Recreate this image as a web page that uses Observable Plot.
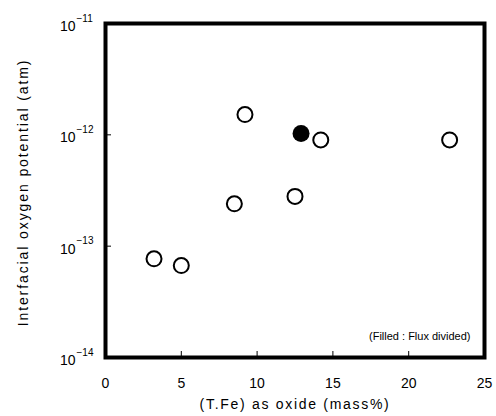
<!DOCTYPE html>
<html><head><meta charset="utf-8">
<script src="https://cdn.jsdelivr.net/npm/d3@7"></script>
<script src="https://cdn.jsdelivr.net/npm/@observablehq/plot@0.6"></script>
<style>
body{margin:0;background:#fff;}
</style>
</head><body><div id="chart"></div>
<script>
const openX = [3.2, 5.0, 8.5, 9.2, 12.5, 14.2, 22.7];
const openY = [7.7e-14, 6.7e-14, 2.4e-13, 1.52e-12, 2.8e-13, 9.0e-13, 9.0e-13];
const filledX = [12.9];
const filledY = [1.03e-12];
const xTicks = [0, 5, 10, 15, 20, 25];
const yTicks = [1e-11, 1e-12, 1e-13, 1e-14];
const yTickBase = ["10", "10", "10", "10"];
const yTickExp = ["\u221211", "\u221212", "\u221213", "\u221214"];
const xLabel = "(T.Fe) as oxide (mass%)";
const yLabel = "Interfacial oxygen potential (atm)";
const note = "(Filled : Flux divided)";

const openData = openX.map((x, i) => ({x, y: openY[i]}));
const filledData = filledX.map((x, i) => ({x, y: filledY[i]}));
const yRows = yTicks.map((v, i) => ({v, base: yTickBase[i], exp: yTickExp[i]}));
const innerTicksX = xTicks.slice(1, -1);
const innerTicksY = yTicks.slice(1, -1);

const chart = Plot.plot({
  width: 496, height: 416,
  marginLeft: 105, marginRight: 12, marginTop: 23, marginBottom: 59,
  style: {fontFamily: "'Liberation Sans', Arial, sans-serif", background: "#fff", color: "#000"},
  x: {domain: [0, 25]},
  y: {type: "log", domain: [1e-14, 1e-11]},
  marks: [
    Plot.axisX(innerTicksX, {tickSize: -6, text: null, label: null, strokeWidth: 1}),
    Plot.axisY(innerTicksY, {tickSize: -6, text: null, label: null, strokeWidth: 1}),
    Plot.frame({stroke: "#000", strokeWidth: 4}),
    Plot.text(xTicks, {x: d => d, frameAnchor: "bottom", dy: 26, lineAnchor: "middle", fontSize: 14}),
    Plot.text(yRows, {y: "v", text: "base", frameAnchor: "left", dx: -30, dy: 3, textAnchor: "end", lineAnchor: "middle", fontSize: 14}),
    Plot.text(yRows, {y: "v", text: "exp", frameAnchor: "left", dx: -29, dy: -5, textAnchor: "start", lineAnchor: "middle", fontSize: 10}),
    Plot.text([xLabel], {frameAnchor: "bottom", dy: 47, textAnchor: "middle", lineAnchor: "middle", fontSize: 14}),
    Plot.text([yLabel], {frameAnchor: "left", rotate: -90, dx: -82, dy: 2, textAnchor: "middle", lineAnchor: "middle", fontSize: 14}),
    Plot.text([note], {frameAnchor: "bottom-right", dx: -14, dy: -21, textAnchor: "end", lineAnchor: "middle", fontSize: 11}),
    Plot.dot(openData, {x: "x", y: "y", r: 7.5, stroke: "#000", strokeWidth: 2, fill: "#fff"}),
    Plot.dot(filledData, {x: "x", y: "y", r: 8.5, fill: "#000", stroke: "none"})
  ]
});
d3.select(chart).selectAll("text").filter(function() { return this.textContent === xLabel; }).attr("letter-spacing", "1.7");
d3.select(chart).selectAll("text").filter(function() { return this.textContent === yLabel; }).attr("letter-spacing", "1.9");
document.getElementById("chart").appendChild(chart);
</script>
</body></html>
